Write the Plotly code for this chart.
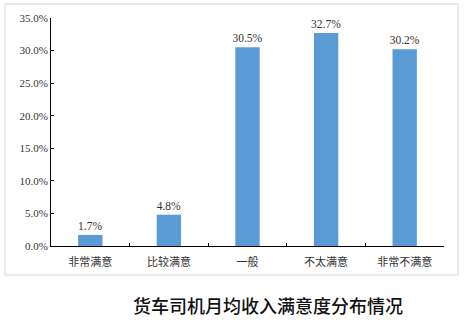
import plotly.graph_objects as go

categories = ["非常满意", "比较满意", "一般", "不太满意", "非常不满意"]
values = [1.7, 4.8, 30.5, 32.7, 30.2]
y_ticks = [0, 5, 10, 15, 20, 25, 30, 35]
title_text = "货车司机月均收入满意度分布情况"

L, R, T, B = 51, 23, 18, 78
W, H = 467, 324
pw, ph = W - L - R, H - T - B

def px(x):
    return (x - L) / pw

def py(y):
    return (H - B - y) / ph

fig = go.Figure(go.Bar(
    x=categories, y=values,
    marker=dict(color="#5B9BD5", line=dict(width=0)),
    texttemplate="%{y:.1f}%", textposition="outside",
    textfont=dict(family="Liberation Serif", size=11.5, color="#333333"),
    constraintext="none",
    cliponaxis=False,
))

fig.update_layout(
    width=W, height=H,
    margin=dict(l=L, r=R, t=T, b=B),
    paper_bgcolor="white", plot_bgcolor="white",
    bargap=0.69,
    showlegend=False,
    font=dict(family="Liberation Serif", size=11, color="#333333"),
)
fig.update_yaxes(
    range=[0, 35], tickvals=y_ticks, ticktext=[f"{v:.1f}%" for v in y_ticks],
    showgrid=False, zeroline=False,
    showline=True, linecolor="black", linewidth=1,
    ticks="inside", ticklen=3, tickcolor="black",
    tickfont=dict(family="Liberation Serif", size=11, color="#333333"),
)
fig.update_xaxes(
    showgrid=False, showline=True, linecolor="black", linewidth=1,
    ticks="inside", ticklen=3, tickcolor="black", tickson="boundaries",
    ticklabelstandoff=6,
    tickfont=dict(family="Noto Sans CJK SC", size=11, color="#333333"),
)

fig.add_shape(type="rect", xref="paper", yref="paper",
              x0=px(5), x1=px(458), y0=py(275), y1=py(4),
              line=dict(color="#D9D9D9", width=1), fillcolor="rgba(0,0,0,0)", layer="below")

fig.add_annotation(text=title_text, xref="paper", yref="paper",
                   x=px(268), y=py(305), xanchor="center", yanchor="middle",
                   showarrow=False,
                   font=dict(family="Noto Sans CJK SC", size=18, color="#111111", weight=500))

fig.write_html("out.html")
